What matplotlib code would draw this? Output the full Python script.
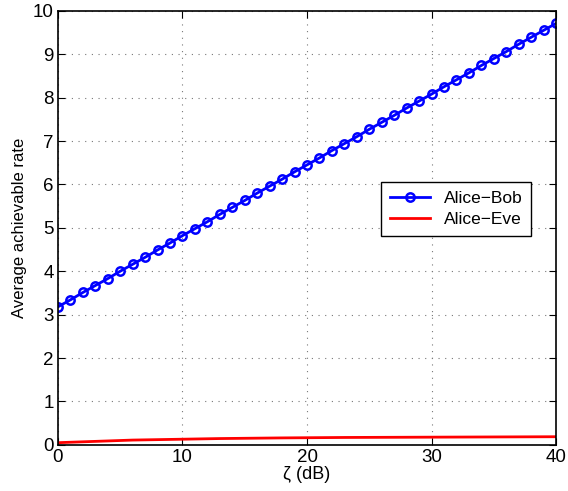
import matplotlib
matplotlib.use("Agg")
import matplotlib.pyplot as plt

plt.rcParams['font.family'] = ['Liberation Sans', 'DejaVu Sans']

zeta_db = list(range(0, 41))
rate_bob = [3.18, 3.34, 3.51, 3.67, 3.83, 4.00, 4.16, 4.32, 4.49, 4.65,
            4.82, 4.98, 5.14, 5.31, 5.47, 5.63, 5.80, 5.96, 6.12, 6.29,
            6.45, 6.61, 6.78, 6.94, 7.10, 7.27, 7.43, 7.59, 7.76, 7.92,
            8.08, 8.25, 8.41, 8.57, 8.74, 8.90, 9.06, 9.23, 9.39, 9.55, 9.71]
rate_eve = [0.05, 0.06, 0.07, 0.08, 0.09, 0.10, 0.11, 0.115, 0.12, 0.125,
            0.13, 0.135, 0.14, 0.145, 0.148, 0.151, 0.154, 0.157, 0.160, 0.162,
            0.164, 0.166, 0.168, 0.170, 0.171, 0.172, 0.173, 0.174, 0.175, 0.176,
            0.177, 0.178, 0.179, 0.180, 0.181, 0.182, 0.183, 0.184, 0.185, 0.186, 0.187]

fig = plt.figure(figsize=(5.68, 4.91), dpi=100)
ax = fig.add_axes([0.102, 0.094, 0.877, 0.884])

ax.plot(zeta_db, rate_bob, '-o', color='#0000ff', lw=2, ms=6, mfc='none', mew=1.8,
        label='Alice\u2212Bob')
ax.plot(zeta_db, rate_eve, '-', color='#ff0000', lw=2, label='Alice\u2212Eve')

ax.set_xlim(0, 40)
ax.set_ylim(0, 10)
ax.set_xticks([0, 10, 20, 30, 40])
ax.set_yticks(range(0, 11))
ax.grid(True, linestyle=(0, (1, 5)), color='#777777', linewidth=0.8)
ax.tick_params(direction='in', top=True, right=True, labelsize=13.5, length=5, pad=3)
for s in ax.spines.values():
    s.set_linewidth(1.2)

ax.set_xlabel('\u03b6 (dB)', fontsize=13, labelpad=0)
ax.set_ylabel('Average achievable rate', fontsize=12, labelpad=4)

leg = ax.legend(loc='lower left', bbox_to_anchor=(0.632, 0.462), fontsize=12.5,
                frameon=True, fancybox=False, edgecolor='black', framealpha=1,
                handlelength=2.3, borderpad=0.5, labelspacing=0.35)
leg.get_frame().set_linewidth(1.0)

fig.savefig('out.png', dpi=100)
